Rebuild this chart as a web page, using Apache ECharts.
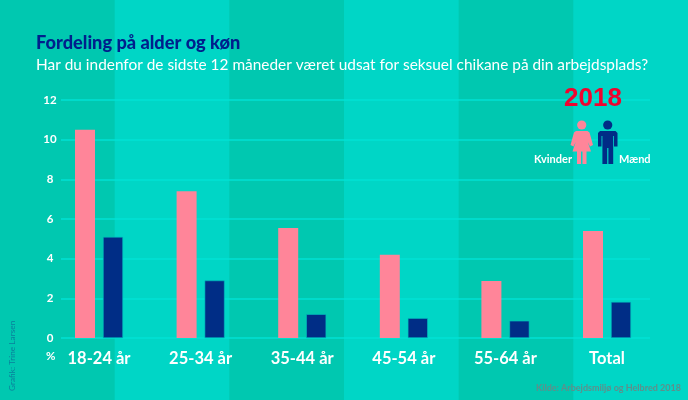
<!DOCTYPE html>
<html>
<head>
<meta charset="utf-8">
<style>
  html, body { margin: 0; padding: 0; }
  #chart { width: 688px; height: 400px; }
</style>
<script src="https://cdn.jsdelivr.net/npm/echarts@6/dist/echarts.min.js"></script>
</head>
<body>
<div id="chart"></div>
<script>
const categories = ['18-24 år', '25-34 år', '35-44 år', '45-54 år', '55-64 år', 'Total']
const kvinder = [10.5, 7.4, 5.55, 4.2, 2.87, 5.4]
const maend = [5.1, 2.9, 1.2, 1.0, 0.87, 1.82]
const yTicks = [0, 2, 4, 6, 8, 10, 12]

const FONT = 'Lato'
const WHITE = '#ffffff'
const PINK = '#ff8599'
const NAVY = '#002d86'
const DARK_BAND = '#00c8b0'
const LIGHT_BAND = '#00d6c6'
const GRID_LINE = '#00e2d4'
const TOP_Z = 10

const WIDTH = 688
const bands = categories.map((c, i) => ({
  type: 'rect',
  z: -10,
  shape: { x: (i * WIDTH) / 6, y: 0, width: WIDTH / 6 + 0.5, height: 400 },
  style: { fill: i % 2 ? LIGHT_BAND : DARK_BAND }
}))

// the graphic component has no svg path type, so the two figures are polygons
const womanIcon = {
  type: 'group',
  children: [
    { type: 'circle', z: TOP_Z, shape: { cx: 581.7, cy: 125, r: 4.6 }, style: { fill: PINK } },
    {
      type: 'polygon',
      z: TOP_Z,
      shape: {
        points: [[576, 131], [587.5, 131], [589.5, 132.5], [593, 145], [590, 146.5], [587.8, 142], [591, 151.5],
          [586.5, 151.5], [586.5, 164], [582.5, 164], [582.5, 151.5], [581, 151.5], [581, 164], [577, 164], [577, 151.5],
          [572.5, 151.5], [575.7, 142], [573.5, 146.5], [570.5, 145], [574, 132.5]]
      },
      style: { fill: PINK }
    }
  ]
}

const manIcon = {
  type: 'group',
  children: [
    { type: 'circle', z: TOP_Z, shape: { cx: 607.7, cy: 125, r: 4.6 }, style: { fill: NAVY } },
    {
      type: 'polygon',
      z: TOP_Z,
      shape: {
        points: [[600, 131], [615.5, 131], [617.5, 133], [617.5, 146.5], [614, 146.5], [614, 136], [613.2, 136],
          [613.2, 164], [608.4, 164], [608.4, 148], [607.2, 148], [607.2, 164], [602.4, 164], [602.4, 136], [601.5, 136],
          [601.5, 146.5], [598, 146.5], [598, 133]]
      },
      style: { fill: NAVY }
    }
  ]
}

function label(text, x, y, size, weight, fill, extra, family) {
  return {
    type: 'text',
    z: TOP_Z,
    x,
    y,
    ...extra,
    style: { text, fontFamily: family || FONT, fontSize: size, fontWeight: weight, fill }
  }
}

const chart = echarts.init(document.getElementById('chart'), null, { renderer: 'canvas' })

chart.setOption({
  animation: false,
  backgroundColor: LIGHT_BAND,
  title: {
    left: 36,
    top: 34,
    text: 'Fordeling på alder og køn',
    subtext: 'Har du indenfor de sidste 12 måneder været udsat for seksuel chikane på din arbejdsplads?',
    itemGap: 6,
    padding: 0,
    textStyle: { fontFamily: FONT, fontSize: 18.2, fontWeight: 900, color: '#001f8c' },
    subtextStyle: { fontFamily: FONT, fontSize: 15.4, fontWeight: 400, color: WHITE }
  },
  grid: [
    { left: 61, right: 38, top: 100, height: 238 },
    { left: 48.2, right: 30.2, top: 100, height: 238 }
  ],
  xAxis: [
    { type: 'category', gridIndex: 0, show: false, data: categories },
    {
      type: 'category',
      gridIndex: 1,
      data: categories,
      axisLine: { show: false },
      axisTick: { show: false },
      axisLabel: { margin: 12, color: WHITE, fontFamily: FONT, fontSize: 16.5, fontWeight: 700 }
    }
  ],
  yAxis: [
    {
      type: 'value',
      gridIndex: 0,
      min: yTicks[0],
      max: yTicks[yTicks.length - 1],
      interval: 2,
      axisLine: { show: false },
      axisTick: { show: false },
      axisLabel: { margin: 11, align: 'center', color: WHITE, fontFamily: FONT, fontSize: 11.5, fontWeight: 700 },
      splitLine: { lineStyle: { color: GRID_LINE, width: 1.5 } }
    },
    {
      type: 'value',
      gridIndex: 1,
      min: yTicks[0],
      max: yTicks[yTicks.length - 1],
      show: false
    }
  ],
  series: [
    {
      name: 'Kvinder',
      type: 'bar',
      xAxisIndex: 1,
      yAxisIndex: 1,
      data: kvinder,
      barWidth: 20,
      barGap: '40%',
      itemStyle: { color: PINK }
    },
    {
      name: 'Mænd',
      type: 'bar',
      xAxisIndex: 1,
      yAxisIndex: 1,
      data: maend,
      barWidth: 20,
      itemStyle: { color: NAVY, borderColor: '#00bcc0', borderWidth: 0.6 }
    }
  ],
  graphic: [
    ...bands,
    womanIcon,
    manIcon,
    label('2018', 564, 86, 26, 700, '#f0042f', null, 'Liberation Sans'),
    label('Kvinder', 534, 154, 11, 700, WHITE),
    label('Mænd', 619, 154, 11, 700, WHITE),
    label('%', 46, 350, 11.5, 700, WHITE),
    label('Kilde: Arbejdsmiljø og Helbred 2018', 536, 384, 9, 700, '#5e8f8b'),
    label('Grafik: Trine Larsen', 8, 391, 8.3, 400, '#0a7f9c', { rotation: Math.PI / 2 })
  ]
})
</script>
</body>
</html>
